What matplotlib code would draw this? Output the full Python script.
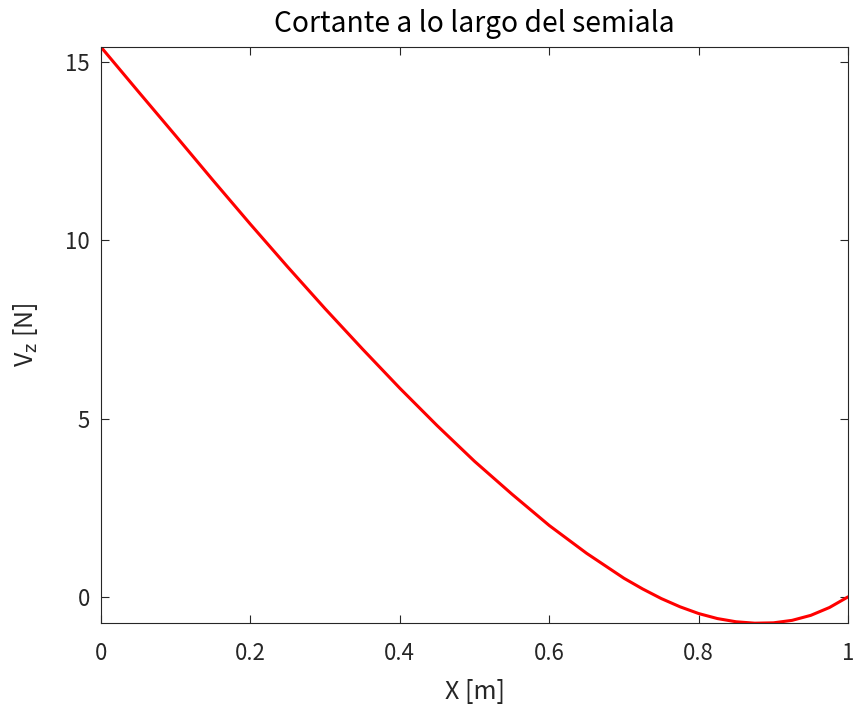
import matplotlib
matplotlib.use("Agg")
import matplotlib.pyplot as plt

plt.rcParams['font.family'] = ['Noto Sans CJK JP', 'DejaVu Sans']

# Shear force along the half-wing
x_pos = [0.0, 0.05, 0.1, 0.15, 0.2, 0.25, 0.3, 0.35, 0.4, 0.45, 0.5,
         0.55, 0.6, 0.65, 0.7, 0.725, 0.75, 0.775, 0.8, 0.825, 0.85,
         0.875, 0.9, 0.925, 0.95, 0.975, 1.0]
v_z = [15.42, 14.17, 12.93, 11.68, 10.45, 9.25, 8.08, 6.95, 5.85, 4.80, 3.80,
       2.88, 2.00, 1.22, 0.52, 0.22, -0.05, -0.28, -0.47, -0.61, -0.70,
       -0.74, -0.73, -0.66, -0.52, -0.30, 0.0]
x_ticks = [0, 0.2, 0.4, 0.6, 0.8, 1]
x_labels = ['0', '0.2', '0.4', '0.6', '0.8', '1']
y_ticks = [0, 5, 10, 15]

axis_color = '#262626'

fig = plt.figure(figsize=(8.55, 7.11), dpi=100)
ax = fig.add_axes([0.118, 0.124, 0.874, 0.810])

ax.plot(x_pos, v_z, color='#ff0000', linewidth=2.2, solid_capstyle='round',
        solid_joinstyle='round')

ax.set_xlim(0, 1)
ax.set_ylim(-0.73, 15.42)
ax.set_xticks(x_ticks)
ax.set_xticklabels(x_labels)
ax.set_yticks(y_ticks)

for s in ax.spines.values():
    s.set_color(axis_color)
    s.set_linewidth(0.8)
ax.tick_params(direction='in', length=6, width=0.8, color=axis_color,
               labelcolor=axis_color, labelsize=16, top=True, right=True)
ax.tick_params(axis='x', pad=14)
ax.tick_params(axis='y', pad=8)

ax.set_title('Cortante a lo largo del semiala', fontsize=20.3, color='black', pad=11)
ax.set_xlabel('X [m]', fontsize=18, color=axis_color, labelpad=10)
ax.set_ylabel('V$_{\\rm z}$ [N]', fontsize=18, color=axis_color, labelpad=18)

fig.savefig('out.png', dpi=100)
